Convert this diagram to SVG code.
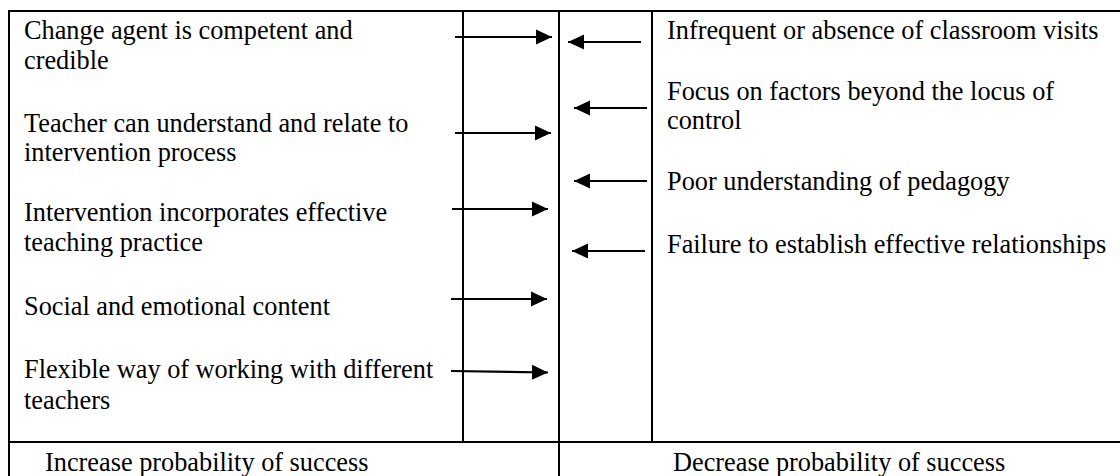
<svg xmlns="http://www.w3.org/2000/svg" width="1120" height="476" viewBox="0 0 1120 476">
<style>
.t{font-family:"Liberation Serif","Times New Roman",serif;font-size:26.3px;fill:#000}
.ln{stroke:#000;stroke-width:2;fill:none}
.ar{stroke:#000;stroke-width:2.2;fill:none;marker-end:url(#ah)}
</style>
<defs>
<marker id="ah" markerUnits="userSpaceOnUse" markerWidth="16" markerHeight="16" viewBox="0 0 16 16" refX="16" refY="8" orient="auto">
<path d="M0,0.5 L16,8 L0,15.5 Z" fill="#000"/>
</marker>
</defs>
<rect width="1120" height="476" fill="#fff"/>
<g id="frame">
<line class="ln" x1="9" y1="11" x2="1120" y2="11"/>
<line class="ln" x1="9" y1="10" x2="9" y2="476"/>
<line class="ln" x1="9" y1="442" x2="1120" y2="442"/>
<line class="ln" x1="463" y1="11" x2="463" y2="442"/>
<line class="ln" x1="559" y1="11" x2="559" y2="476"/>
<line class="ln" x1="652" y1="11" x2="652" y2="442"/>
</g>
<g id="left-factors">
<g id="l1"><text class="t" x="24" y="39">Change agent is competent and</text><text class="t" x="24" y="69">credible</text></g>
<g id="l2"><text class="t" x="24" y="132">Teacher can understand and relate to</text><text class="t" x="24" y="161">intervention process</text></g>
<g id="l3"><text class="t" x="24" y="221">Intervention incorporates effective</text><text class="t" x="24" y="251">teaching practice</text></g>
<g id="l4"><text class="t" x="24" y="315">Social and emotional content</text></g>
<g id="l5"><text class="t" x="24" y="378">Flexible way of working with different</text><text class="t" x="24" y="409">teachers</text></g>
</g>
<g id="right-factors">
<g id="r1"><text class="t" x="667" y="39">Infrequent or absence of classroom visits</text></g>
<g id="r2"><text class="t" x="667" y="100">Focus on factors beyond the locus of</text><text class="t" x="667" y="129">control</text></g>
<g id="r3"><text class="t" x="667" y="190">Poor understanding of pedagogy</text></g>
<g id="r4"><text class="t" x="667" y="253">Failure to establish effective relationships</text></g>
</g>
<g id="labels">
<g id="inc"><text class="t" x="45" y="471">Increase probability of success</text></g>
<g id="dec"><text class="t" x="673" y="471">Decrease probability of success</text></g>
</g>
<g id="connectors">
<line class="ar" x1="455" y1="37" x2="552" y2="37"/>
<line class="ar" x1="641" y1="42" x2="568" y2="42"/>
<line class="ar" x1="647" y1="108" x2="574" y2="108"/>
<line class="ar" x1="455" y1="133" x2="551" y2="133"/>
<line class="ar" x1="647" y1="181" x2="574" y2="181"/>
<line class="ar" x1="452" y1="209" x2="548" y2="209"/>
<line class="ar" x1="645" y1="251" x2="572" y2="251"/>
<line class="ar" x1="451" y1="299" x2="547" y2="299"/>
<line class="ar" x1="451" y1="371" x2="548" y2="372.5"/>
</g>
</svg>
